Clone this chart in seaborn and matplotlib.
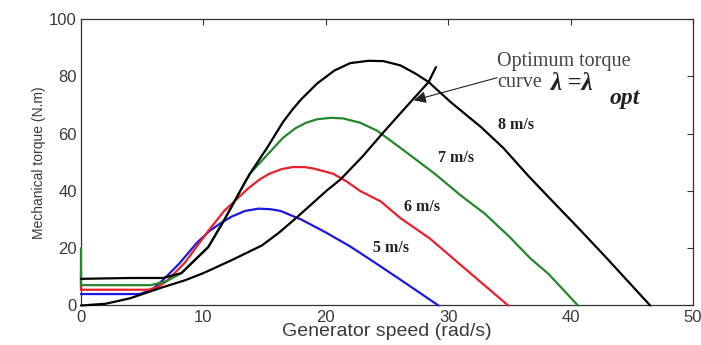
import matplotlib
matplotlib.use("Agg")
import matplotlib.pyplot as plt
import seaborn as sns
import pandas as pd

# ---- data ----
opt_x = [0, 2, 4, 6.7, 8.5, 10, 12.3, 14.8, 16.2, 17.7, 20.1, 21.2, 23, 24.7, 26.5, 28.4, 29.0]
opt_y = [0, 0.6, 2.5, 6.4, 8.8, 11.3, 15.8, 21, 25.5, 31, 40.2, 44, 52, 60.4, 69, 78, 83.2]

v5_x = [0, 4.8, 5.8, 6.7, 8, 9.5, 10.5, 11.4, 12.3, 13.4, 14.5, 15.5, 16.3, 18, 20, 22, 24, 26.1, 28, 29.2]
v5_y = [4.0, 4.0, 5.5, 8.9, 14.5, 22, 26, 28.7, 31, 33, 33.8, 33.6, 33, 30, 25.5, 20.6, 15, 9, 3.5, 0]

v6_x = [0, 0, 5.5, 6.3, 7, 8.5, 10.4, 11.7, 13.7, 14.6, 15.4, 16.4, 17.3, 18.3, 19, 20.6, 21.7, 22.8,
        24.5, 26.1, 28.5, 31.2, 34.9]
v6_y = [12, 5.5, 5.5, 6.5, 8.5, 15, 26, 33, 41, 44, 46, 47.6, 48.3, 48.3, 47.8, 46, 43.3, 40,
        36.3, 30.5, 23.4, 13.5, 0]

v7_x = [0, 0, 5.7, 7, 8.2, 10.4, 11.7, 13.4, 13.8, 15.2, 16.5, 17.5, 18.4, 19.3, 20.4, 21.4, 22.8,
        24.2, 26.1, 28.9, 31, 33, 35, 36.7, 38.2, 40.6]
v7_y = [20, 7.1, 7.1, 8.5, 11.3, 20.4, 29.8, 43, 46, 52.5, 58.5, 61.8, 63.8, 65, 65.5, 65.3, 63.8,
        61, 55, 46, 38.5, 32, 24, 16.5, 11, 0]

v8_x = [0, 4, 6.7, 8.2, 10.4, 11.7, 13.4, 13.8, 15.2, 16.5, 17.3, 18, 19.3, 20.7, 22, 23.5, 24.7,
        26.1, 27.3, 28.4, 30.2, 32.7, 34.5, 36.6, 38.5, 40.8, 43, 46.5]
v8_y = [9.3, 9.6, 9.6, 11.3, 20.4, 29.8, 43, 46, 55, 64, 68.5, 72, 77.5, 82, 84.6, 85.4, 85.3,
        83.8, 81, 78, 71, 62.2, 55, 45, 36.5, 26.3, 16.3, 0]

speed_labels = ["5 m/s", "6 m/s", "7 m/s", "8 m/s"]
label_x = [25.3, 27.9, 30.6, 35.5]
label_y = [20, 34.3, 51.4, 62.9]

x_ticks = [0, 10, 20, 30, 40, 50]
y_ticks = [0, 20, 40, 60, 80, 100]

# ---- plotting ----
sns.set_style("white")
plt.rcParams["font.family"] = ["Liberation Sans", "DejaVu Sans"]

fig = plt.figure(figsize=(7.01, 3.45), dpi=100)
ax = fig.add_axes([0.1155, 0.1145, 0.8731, 0.8305])

series = [
    (v5_x, v5_y, "#1818e0"),
    (v6_x, v6_y, "#e8202a"),
    (v7_x, v7_y, "#23882a"),
    (v8_x, v8_y, "black"),
    (opt_x, opt_y, "black"),
]
for xs, ys, c in series:
    df = pd.DataFrame({"x": xs, "y": ys})
    sns.lineplot(data=df, x="x", y="y", sort=False, estimator=None, color=c,
                 lw=1.6, ax=ax, zorder=3, clip_on=False)

ax.set_xlim(0, 50)
ax.set_ylim(0, 100)
ax.set_xticks(x_ticks)
ax.set_yticks(y_ticks)
ax.tick_params(direction="in", length=4, width=0.8, top=True, right=True,
               labelsize=12, labelcolor="#3a3a3a", color="#333333", pad=3)
ax.tick_params(axis="x", labeltop=False)
ax.tick_params(axis="y", labelright=False)
for s in ax.spines.values():
    s.set_color("#333333")
    s.set_linewidth(0.9)
    s.set_visible(True)

ax.set_xlabel("Generator speed (rad/s)", fontsize=14, color="#3a3a3a", labelpad=-1)
ax.set_ylabel("Mechanical torque (N.m)", fontsize=10, color="#3a3a3a", labelpad=2)

serif = ["Liberation Serif", "DejaVu Serif"]
for t, xx, yy in zip(speed_labels, label_x, label_y):
    ax.text(xx, yy, t, ha="center", va="center", fontsize=11.5, fontweight="bold",
            family=serif, color="#222222")

ax.annotate("", xy=(27.2, 71.6), xytext=(34.0, 79.5),
            arrowprops=dict(arrowstyle="-|>", color="#222222", lw=0.8,
                            mutation_scale=18, shrinkA=0, shrinkB=0))
ax.text(34.0, 85.0, "Optimum torque", fontsize=14.5, family=serif, color="#444444",
        ha="left", va="center")
ax.text(34.0, 77.9, "curve", fontsize=14.5, family=serif, color="#444444",
        ha="left", va="center")
ax.text(38.4, 77.6, "λ =λ", fontsize=18, family=serif, fontweight="bold",
        fontstyle="italic", color="#222222", ha="left", va="center")
ax.text(43.2, 72.4, "opt", fontsize=17, family=serif, fontweight="bold",
        fontstyle="italic", color="#222222", ha="left", va="center")

fig.savefig("out.png", dpi=100)
